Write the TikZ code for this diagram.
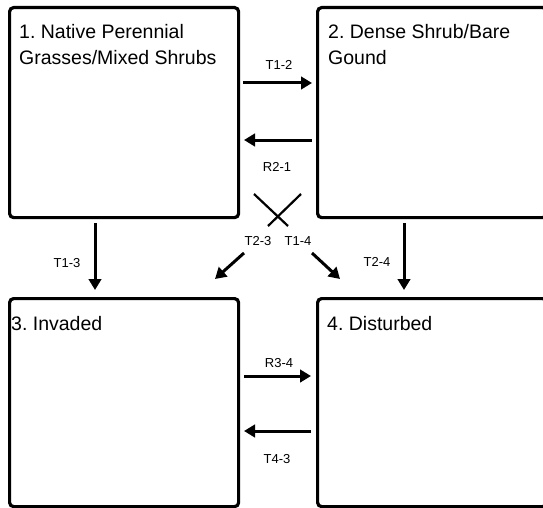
\documentclass[tikz,border=0pt]{standalone}
\usepackage{fontspec}
\setmainfont{Liberation Sans}
\usetikzlibrary{arrows.meta}
\frenchspacing
\begin{document}
\begin{tikzpicture}[x=1pt,y=-1pt,
  statebox/.style={draw=black, line width=3.2pt, rounded corners=4pt, minimum width=229pt, minimum height=210pt, inner sep=0pt, anchor=north west},
  titletext/.style={font=\fontsize{19.5}{25.5}\selectfont\frenchspacing, inner sep=0pt, align=left, anchor=north west},
  lbl/.style={font=\fontsize{13}{15}\selectfont, inner sep=0pt},
  arr/.style={line width=3pt, -{Triangle[length=11pt,width=12.5pt]}},
  crossline/.style={line width=2.2pt}]
\useasboundingbox (0,0) rectangle (543,508);
\clip (0,0) rectangle (543,508);
% boxes
\node[statebox] (b1) at (8,6) {};
\node[statebox] (b2) at (316,6) {};
\node[statebox, minimum height=208pt] (b3) at (8,297) {};
\node[statebox, minimum height=208pt] (b4) at (316,297) {};
% titles
\node[titletext] (t1) at (19,24.5) {1. Native Perennial\\Grasses/Mixed Shrubs};
\node[titletext] (t2) at (328,24.5) {2. Dense Shrub/Bare\\Gound};
\node[titletext] (t3) at (11,316) {3. Invaded};
\node[titletext] (t4) at (327,316) {4. Disturbed};
% connector end points
\coordinate (a12s) at (243,83);  \coordinate (a12e) at (312,83);
\coordinate (a21s) at (312,140); \coordinate (a21e) at (244,140);
\coordinate (x1s) at (254,194);  \coordinate (x1e) at (288,226);
\coordinate (x2s) at (301,194);  \coordinate (x2e) at (268,226);
\coordinate (a23s) at (244,253); \coordinate (a23e) at (215,279);
\coordinate (a14s) at (312,253); \coordinate (a14e) at (340,279);
\coordinate (a13s) at (95,223);  \coordinate (a13e) at (95,290);
\coordinate (a24s) at (404,223); \coordinate (a24e) at (404,290);
\coordinate (a34s) at (244,376); \coordinate (a34e) at (311,376);
\coordinate (a43s) at (311,431); \coordinate (a43e) at (244,431);
% connectors
\draw[arr] (a12s) -- (a12e);
\draw[arr] (a21s) -- (a21e);
\draw[crossline] (x1s) -- (x1e);
\draw[crossline] (x2s) -- (x2e);
\draw[arr] (a23s) -- (a23e);
\draw[arr] (a14s) -- (a14e);
\draw[arr] (a13s) -- (a13e);
\draw[arr] (a24s) -- (a24e);
\draw[arr] (a34s) -- (a34e);
\draw[arr] (a43s) -- (a43e);
% labels
\node[lbl] (l12) at (279,65) {T1-2};
\node[lbl] (l21) at (277,167) {R2-1};
\node[lbl] (l23) at (258,241) {T2-3};
\node[lbl] (l14) at (298,241) {T1-4};
\node[lbl] (l13) at (67,263) {T1-3};
\node[lbl] (l24) at (377,262) {T2-4};
\node[lbl] (l34) at (279,363) {R3-4};
\node[lbl] (l43) at (277,459) {T4-3};
\end{tikzpicture}
\end{document}
